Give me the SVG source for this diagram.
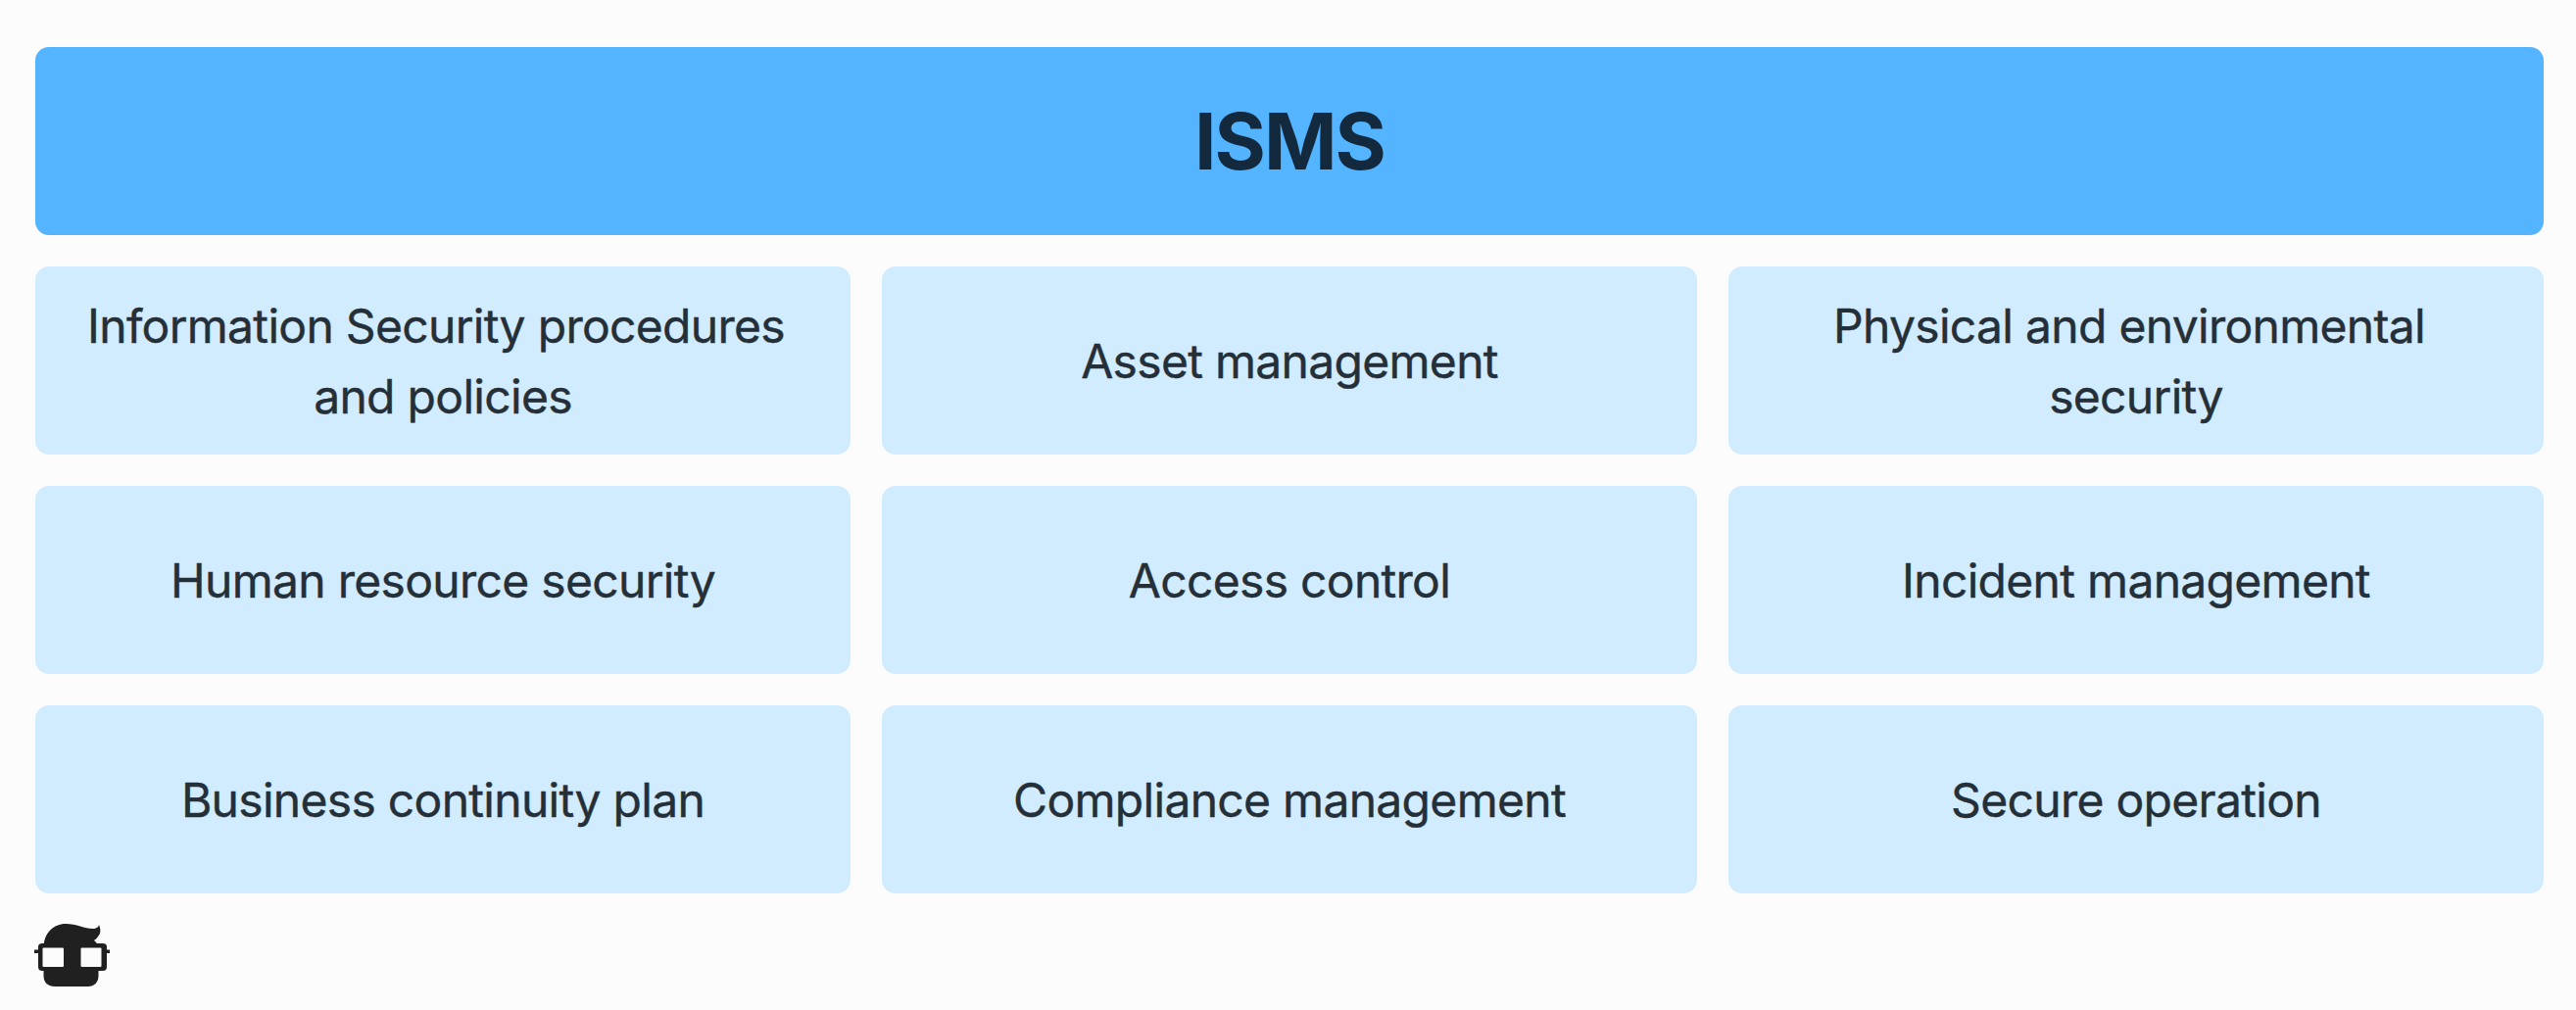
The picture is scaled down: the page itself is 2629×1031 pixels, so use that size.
<svg xmlns="http://www.w3.org/2000/svg" width="2629" height="1031" viewBox="0 0 2629 1031">
<style>
.cell{fill:#d1ebff}
.t{font-family:Inter,"Liberation Sans",sans-serif;font-size:48px;font-weight:400;letter-spacing:-.7px;fill:#252f38;stroke:#252f38;stroke-width:.4px;text-anchor:middle}
.h{font-family:Inter,"Liberation Sans",sans-serif;font-size:80px;font-weight:700;letter-spacing:-2px;fill:#132a3e;text-anchor:middle}
</style>
<rect width="2629" height="1031" fill="#fcfcfc"/>
<g id="header"><rect x="36" y="48" width="2560" height="192" rx="14" fill="#54b4ff"/><text class="h" x="1316" y="173">ISMS</text></g>
<g id="n1"><rect class="cell" x="36" y="272" width="832" height="192" rx="14"/><text class="t" x="445" y="350">Information Security procedures</text><text class="t" x="452" y="422">and policies</text></g>
<g id="n2"><rect class="cell" x="900" y="272" width="832" height="192" rx="14"/><text class="t" x="1316" y="386">Asset management</text></g>
<g id="n3"><rect class="cell" x="1764" y="272" width="832" height="192" rx="14"/><text class="t" x="2173" y="350">Physical and environmental</text><text class="t" x="2180" y="422">security</text></g>
<g id="n4"><rect class="cell" x="36" y="496" width="832" height="192" rx="14"/><text class="t" x="452" y="610">Human resource security</text></g>
<g id="n5"><rect class="cell" x="900" y="496" width="832" height="192" rx="14"/><text class="t" x="1316" y="610">Access control</text></g>
<g id="n6"><rect class="cell" x="1764" y="496" width="832" height="192" rx="14"/><text class="t" x="2180" y="610">Incident management</text></g>
<g id="n7"><rect class="cell" x="36" y="720" width="832" height="192" rx="14"/><text class="t" x="452" y="834">Business continuity plan</text></g>
<g id="n8"><rect class="cell" x="900" y="720" width="832" height="192" rx="14"/><text class="t" x="1316" y="834">Compliance management</text></g>
<g id="n9"><rect class="cell" x="1764" y="720" width="832" height="192" rx="14"/><text class="t" x="2180" y="834">Secure operation</text></g>
<g id="logo">
<path d="M44.500 968C44.500 952 55 943 67 943C78 943 86 948 95 948C98 948 101 946 101 944C103 949 103 953 100 956C99 958 97 959 96 960C99 962 100 965 100.500 968L100.500 996C100.500 1003 96 1007 90 1007L56 1007C49 1007 44.500 1003 44.500 996Z" fill="#202020"/>
<path d="M35 969.500H39V966C39 964 41 963 43 963H105C107 963 109 964 109 966V969.500H112V973H109V987C109 990 107 991 105 991H43C41 991 39 990 39 987V973H35Z" fill="#202020"/>
<rect x="43.500" y="967.500" width="21.500" height="19.500" rx="1" fill="#fcfcfc"/>
<rect x="82.500" y="967.500" width="21" height="19.500" rx="1" fill="#fcfcfc"/>
</g>
</svg>
